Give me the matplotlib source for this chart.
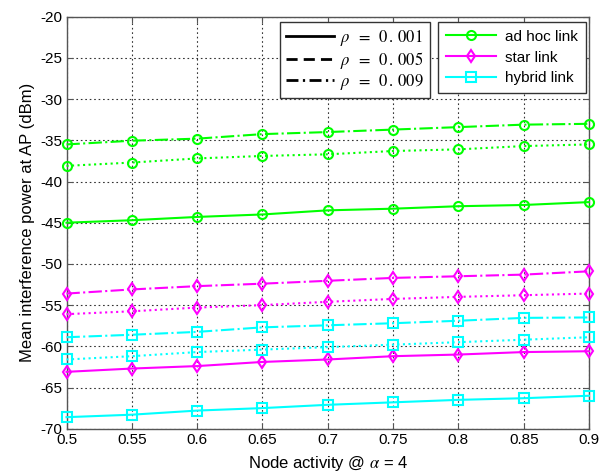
import matplotlib
matplotlib.use("Agg")
import matplotlib.pyplot as plt
from matplotlib.lines import Line2D

plt.rcParams['font.family'] = ['Liberation Sans', 'DejaVu Sans']
plt.rcParams['axes.unicode_minus'] = False
plt.rcParams['mathtext.fontset'] = 'stix'

x = [0.5, 0.55, 0.6, 0.65, 0.7, 0.75, 0.8, 0.85, 0.9]
xtick_labels = ['0.5', '0.55', '0.6', '0.65', '0.7', '0.75', '0.8', '0.85', '0.9']
yticks = [-70, -65, -60, -55, -50, -45, -40, -35, -30, -25, -20]

adhoc_001 = [-45.0, -44.7, -44.3, -44.0, -43.5, -43.3, -43.0, -42.85, -42.5]
adhoc_005 = [-38.1, -37.7, -37.2, -36.9, -36.7, -36.3, -36.1, -35.7, -35.5]
adhoc_009 = [-35.5, -35.05, -34.8, -34.25, -34.0, -33.7, -33.4, -33.1, -33.0]

star_001 = [-63.1, -62.7, -62.4, -61.9, -61.6, -61.2, -61.0, -60.7, -60.6]
star_005 = [-56.1, -55.75, -55.3, -55.0, -54.6, -54.25, -54.0, -53.8, -53.6]
star_009 = [-53.6, -53.1, -52.7, -52.4, -52.05, -51.7, -51.5, -51.3, -50.9]

hybrid_001 = [-68.6, -68.3, -67.8, -67.5, -67.1, -66.8, -66.5, -66.3, -66.0]
hybrid_005 = [-61.6, -61.2, -60.7, -60.4, -60.1, -59.8, -59.5, -59.2, -58.9]
hybrid_009 = [-58.9, -58.6, -58.25, -57.7, -57.45, -57.2, -56.9, -56.55, -56.5]

rho_labels = [r'$\rho\;\;=\;\;0\,.\,001$', r'$\rho\;\;=\;\;0\,.\,005$', r'$\rho\;\;=\;\;0\,.\,009$']
link_labels = ['ad hoc link', 'star link', 'hybrid link']

fig = plt.figure(figsize=(6.11, 4.72), dpi=100)
ax = fig.add_axes([66.5/611, 1-428.7/472, (589-66.5)/611, (428.7-16.7)/472])

green = (0, 1, 0)
magenta = (1, 0, 1)
cyan = (0, 1, 1)
lw = 1.5
ms = 6.5
mew = 1.5

series = [
    (adhoc_001, green, 'o', '-'), (adhoc_005, green, 'o', ':'), (adhoc_009, green, 'o', '-.'),
    (star_001, magenta, 'd', '-'), (star_005, magenta, 'd', ':'), (star_009, magenta, 'd', '-.'),
    (hybrid_001, cyan, 's', '-'), (hybrid_005, cyan, 's', ':'), (hybrid_009, cyan, 's', '-.'),
]
for ys, c, m, ls in series:
    ax.plot(x, ys, color=c, marker=m, linestyle=ls, linewidth=lw,
            markersize=ms, markerfacecolor='none', markeredgecolor=c,
            markeredgewidth=mew, clip_on=False, zorder=3)

ax.set_xlim(0.5, 0.9)
ax.set_ylim(-70, -20)
ax.set_xticks(x)
ax.set_xticklabels(xtick_labels)
ax.set_yticks(yticks)
ax.tick_params(direction='in', top=True, right=True, labelsize=11, length=4,
               color='#555555', pad=3)
ax.grid(True, linestyle=(0, (1.5, 2.5)), color='#333333', linewidth=0.8)
for sp in ax.spines.values():
    sp.set_color('#555555')
    sp.set_linewidth(1.0)

ax.set_xlabel(r'Node activity @ $\alpha$ = 4', fontsize=12, labelpad=5)
ax.set_ylabel('Mean interference power at AP (dBm)', fontsize=12, labelpad=4)

h1 = [Line2D([], [], color='black', linestyle=ls, linewidth=2.0)
      for ls in ['-', (0, (4, 2.2)), (0, (4.3, 1.6, 0.8, 1.6))]]
leg1 = fig.legend(h1, rho_labels, loc='upper left',
                  bbox_to_anchor=(280/611, 1-22/472), bbox_transform=fig.transFigure,
                  borderaxespad=0, fancybox=False, edgecolor='#333333', framealpha=1,
                  fontsize=12, handlelength=2.9, labelspacing=0.1, handletextpad=0.35,
                  borderpad=0.35)
leg1.get_frame().set_linewidth(1.0)

h2 = [Line2D([], [], color=c, marker=m, linestyle='-', linewidth=lw, markersize=ms,
             markerfacecolor='none', markeredgecolor=c, markeredgewidth=mew)
      for c, m in [(green, 'o'), (magenta, 'd'), (cyan, 's')]]
leg2 = fig.legend(h2, link_labels, loc='upper right',
                  bbox_to_anchor=(586/611, 1-22/472), bbox_transform=fig.transFigure,
                  borderaxespad=0, fancybox=False, edgecolor='#333333', framealpha=1,
                  fontsize=11, handlelength=3.3, labelspacing=0.45, handletextpad=0.6,
                  borderpad=0.5)
leg2.get_frame().set_linewidth(1.0)

fig.savefig('out.png', dpi=100)
